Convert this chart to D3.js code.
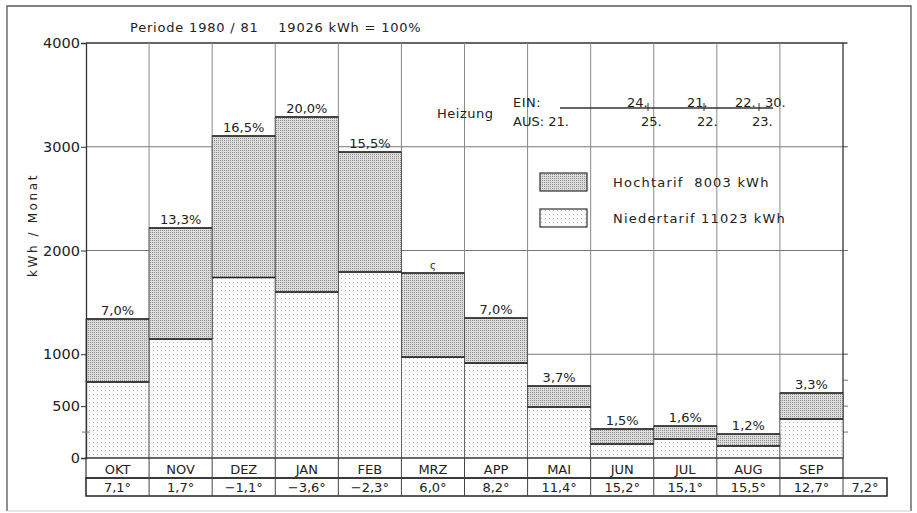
<!DOCTYPE html>
<html><head><meta charset="utf-8">
<script src="https://cdn.jsdelivr.net/npm/d3@7"></script>
<style>
html,body{margin:0;padding:0;background:#fff;}
svg text{font-family:"DejaVu Sans","Liberation Sans",sans-serif;fill:#222;}
</style></head>
<body><svg id="c" width="917" height="513"></svg>
<script>
// ---- data ----
const months = ["OKT","NOV","DEZ","JAN","FEB","MRZ","APP","MAI","JUN","JUL","AUG","SEP"];
const niedertarif = [733, 1147, 1740, 1600, 1793, 973, 915, 492, 135, 183, 116, 376];
const hochtarif   = [607, 1070, 1364, 1687, 1156, 810, 434, 202, 145, 125, 115, 250];
const pctLabels   = ["7,0%","13,3%","16,5%","20,0%","15,5%","ς","7,0%","3,7%","1,5%","1,6%","1,2%","3,3%"];
const temps       = ["7,1°","1,7°","−1,1°","−3,6°","−2,3°","6,0°","8,2°","11,4°","15,2°","15,1°","15,5°","12,7°"];
const tempAvg     = "7,2°";
const yTicks      = [0, 500, 1000, 2000, 3000, 4000];
const gridVals    = [1000, 2000, 3000, 4000];
const rightTicks  = [250, 500, 750, 1000, 2000, 3000, 4000];
const legendItems = [{key:"hoch", label:"Hochtarif  8003 kWh"}, {key:"nieder", label:"Niedertarif 11023 kWh"}];
const heizEin = [{t:"24.", d:"24"}, {t:"21.", d:"21"}, {t:"22.", d:"22"}, {t:"30.", d:"30"}];
const heizAus = ["25.", "22.", "23."];

const svg = d3.select("#c");
const defs = svg.append("defs");
// Hochtarif: dense dot screen
const ph = defs.append("pattern").attr("id","pHoch").attr("patternUnits","userSpaceOnUse").attr("width",2).attr("height",2);
ph.append("rect").attr("width",2).attr("height",2).attr("fill","#dcdcdc");
ph.append("rect").attr("width",1).attr("height",1).attr("fill","#909090");
// Niedertarif: sparse dot grid
const pn = defs.append("pattern").attr("id","pNieder").attr("patternUnits","userSpaceOnUse").attr("width",4).attr("height",4);
pn.append("rect").attr("width",4).attr("height",4).attr("fill","#fbfbfb");
pn.append("rect").attr("x",1).attr("y",2).attr("width",1).attr("height",1).attr("fill","#b8b8b8");

const x = d3.scaleBand().domain(months).range([86, 843]).paddingInner(0).paddingOuter(0);
const y = d3.scaleLinear().domain([0, 4000]).range([458, 43]);

// outer frame
svg.append("path").attr("d","M7,511 L7,6 L911,6 L911,511").attr("fill","none").attr("stroke","#555").attr("stroke-width",1.3);
svg.append("line").attr("x1",7).attr("x2",911).attr("y1",511).attr("y2",511).attr("stroke","#ccc");

// title
svg.append("text").attr("x",130).attr("y",32).attr("font-size",13).attr("letter-spacing",0.8)
  .attr("xml:space","preserve").text("Periode 1980 / 81    19026 kWh = 100%");

// gridlines
svg.append("g").selectAll("line").data(gridVals).join("line")
  .attr("x1",86).attr("x2",847).attr("y1",d=>y(d)).attr("y2",d=>y(d))
  .attr("stroke",d=>d===4000?"#333":"#777").attr("stroke-width",d=>d===4000?1.3:1);
svg.append("g").selectAll("line").data(months.slice(1)).join("line")
  .attr("x1",d=>x(d)).attr("x2",d=>x(d)).attr("y1",y(4000)).attr("y2",y(0))
  .attr("stroke","#888").attr("stroke-width",1);

// right ticks
svg.append("g").selectAll("line").data(rightTicks).join("line")
  .attr("x1",843).attr("x2",848).attr("y1",d=>y(d)).attr("y2",d=>y(d)).attr("stroke","#777");
svg.append("line").attr("x1",843).attr("x2",843).attr("y1",y(4000)).attr("y2",y(0)).attr("stroke","#333").attr("stroke-width",1.3);

// bars
const stack = months.map((m,i)=>({m, n:niedertarif[i], h:hochtarif[i], p:pctLabels[i]}));
const gb = svg.append("g");
gb.selectAll("rect.n").data(stack).join("rect").attr("class","n")
  .attr("x",d=>x(d.m)).attr("width",x.bandwidth()).attr("y",d=>y(d.n)).attr("height",d=>y(0)-y(d.n))
  .attr("fill","url(#pNieder)").attr("stroke","#555").attr("stroke-width",0.8);
gb.selectAll("rect.h").data(stack).join("rect").attr("class","h")
  .attr("x",d=>x(d.m)).attr("width",x.bandwidth()).attr("y",d=>y(d.n+d.h)).attr("height",d=>y(d.n)-y(d.n+d.h))
  .attr("fill","url(#pHoch)").attr("stroke","#444").attr("stroke-width",0.8);
gb.selectAll("line.t").data(stack).join("line")
  .attr("x1",d=>x(d.m)).attr("x2",d=>x(d.m)+x.bandwidth()).attr("y1",d=>y(d.n+d.h)).attr("y2",d=>y(d.n+d.h))
  .attr("stroke","#222").attr("stroke-width",1.6);
gb.selectAll("line.b").data(stack).join("line")
  .attr("x1",d=>x(d.m)).attr("x2",d=>x(d.m)+x.bandwidth()).attr("y1",d=>y(d.n)).attr("y2",d=>y(d.n))
  .attr("stroke","#222").attr("stroke-width",1.4);
gb.selectAll("text").data(stack).join("text")
  .attr("x",d=>x(d.m)+x.bandwidth()/2).attr("y",d=>y(d.n+d.h)-4)
  .attr("text-anchor","middle").attr("font-size",d=>d.p.length<2?10:13).text(d=>d.p);

// left axis
const ya = svg.append("g").attr("transform","translate(86,0)")
  .call(d3.axisLeft(y).tickValues(yTicks).tickSize(5).tickFormat(d=>d));
ya.select(".domain").attr("stroke","#333").attr("stroke-width",1.3);
ya.selectAll(".tick line").attr("stroke","#333");
ya.selectAll(".tick text").attr("font-size",14.5).attr("font-family","DejaVu Sans").attr("fill","#222").attr("x",-6);
svg.append("line").attr("x1",82).attr("x2",90).attr("y1",y(250)).attr("y2",y(250)).attr("stroke","#777");

// y title
svg.append("text").attr("transform","translate(37,225) rotate(-90)").attr("text-anchor","middle")
  .attr("font-size",12).attr("letter-spacing",2.6).text("kWh / Monat");

// table
const tb = svg.append("g");
const r1 = 458, r2 = 478, r3 = 496;
tb.append("rect").attr("x",86).attr("y",r1).attr("width",843-86).attr("height",r2-r1).attr("fill","none").attr("stroke","#333").attr("stroke-width",1.2);
tb.append("rect").attr("x",86).attr("y",r2).attr("width",887-86).attr("height",r3-r2).attr("fill","none").attr("stroke","#222").attr("stroke-width",1.5);
tb.selectAll("line.v").data(months.slice(1).concat(["_end"])).join("line")
  .attr("x1",d=>d==="_end"?843:x(d)).attr("x2",d=>d==="_end"?843:x(d))
  .attr("y1",d=>d==="_end"?r2:r1).attr("y2",r3).attr("stroke","#444");
tb.selectAll("text.m").data(months).join("text").attr("class","m")
  .attr("x",d=>x(d)+x.bandwidth()/2).attr("y",r2-4.5).attr("text-anchor","middle").attr("font-size",13).text(d=>d);
tb.selectAll("text.tp").data(months).join("text").attr("class","tp")
  .attr("x",d=>x(d)+x.bandwidth()/2).attr("y",r3-4).attr("text-anchor","middle").attr("font-size",13).text((d,i)=>temps[i]);
tb.append("text").attr("x",865).attr("y",r3-4).attr("text-anchor","middle").attr("font-size",13).text(tempAvg);

// Heizung block
const hz = svg.append("g");
hz.append("text").attr("x",437).attr("y",118).attr("font-size",13).attr("letter-spacing",0.5).text("Heizung");
hz.append("text").attr("x",513).attr("y",107).attr("font-size",13).attr("letter-spacing",0.5).text("EIN:");
hz.append("text").attr("x",513).attr("y",126).attr("font-size",13).text("AUS: 21.");
hz.append("line").attr("x1",560).attr("x2",773).attr("y1",108).attr("y2",108).attr("stroke","#333").attr("stroke-width",1.3);
const einX = [627, 687, 735, 765];
hz.selectAll("text.e").data(heizEin).join("text").attr("class","e")
  .attr("x",(d,i)=>einX[i]).attr("y",107).attr("font-size",13).text(d=>d.t);
const ausX = [641, 697, 752];
hz.selectAll("text.a").data(heizAus).join("text").attr("class","a")
  .attr("x",(d,i)=>ausX[i]).attr("y",126).attr("font-size",13).text(d=>d);
hz.selectAll("path.k").data(ausX).join("path").attr("class","k")
  .attr("d",d=>`M${d+7},103 L${d+7},111`).attr("stroke","#333").attr("fill","none");

// legend
const lg = svg.append("g");
legendItems.forEach((it,i)=>{
  const yy = 173 + i*36;
  lg.append("rect").attr("x",540).attr("y",yy).attr("width",47).attr("height",18)
    .attr("fill",it.key==="hoch"?"url(#pHoch)":"url(#pNieder)").attr("stroke","#333").attr("stroke-width",1.2);
  lg.append("text").attr("x",613).attr("y",yy+14).attr("font-size",13).attr("letter-spacing",1.2)
    .attr("xml:space","preserve").text(it.label);
});
</script></body></html>
